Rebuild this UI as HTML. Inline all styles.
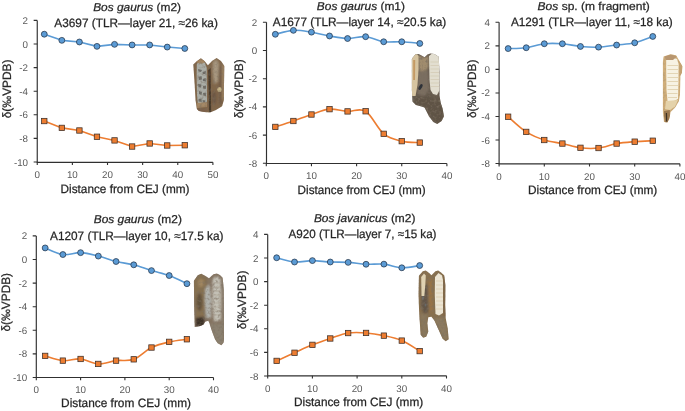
<!DOCTYPE html>
<html><head><meta charset="utf-8"><style>
html,body{margin:0;padding:0;background:#fff;}
svg{display:block;will-change:transform;}
text{font-family:"Liberation Sans", sans-serif;text-rendering:geometricPrecision;}
.t{fill:#262626;stroke:#262626;stroke-width:0.25px;}
</style></head><body>
<svg width="685" height="411" viewBox="0 0 685 411">
<rect width="685" height="411" fill="#fff"/>
<defs>
<filter id="b1" x="-20%" y="-20%" width="140%" height="140%"><feGaussianBlur stdDeviation="1.2"/></filter>
<filter id="b07" x="-20%" y="-20%" width="140%" height="140%"><feGaussianBlur stdDeviation="0.7"/></filter>
<filter id="b05" x="-10%" y="-10%" width="120%" height="120%"><feGaussianBlur stdDeviation="0.45"/></filter>
<filter id="nz" x="0" y="0" width="100%" height="100%" filterUnits="userSpaceOnUse"><feTurbulence type="fractalNoise" baseFrequency="0.38" numOctaves="2" seed="4"/><feColorMatrix type="matrix" values="0 0 0 0 0.2  0 0 0 0 0.16  0 0 0 0 0.12  0 0 0 -3 1.62"/></filter>
<filter id="nzl" x="0" y="0" width="100%" height="100%" filterUnits="userSpaceOnUse"><feTurbulence type="fractalNoise" baseFrequency="0.3" numOctaves="2" seed="11"/><feColorMatrix type="matrix" values="0 0 0 0 0.95  0 0 0 0 0.9  0 0 0 0 0.8  0 0 0 -3 1.6"/></filter>
<clipPath id="c1"><path d="M193.3 64.5 L197 61 L200.9 58.3 L204.5 61 L207.9 65.2 L212 61 L216.6 57.9 L221 61 L224.3 66 L224 85 L223.9 100 L222.1 106.2 L216 110 L210 112.4 L204 112 L199 111 L196.9 109 L195.5 100 L194.7 85 Z"/></clipPath>
<clipPath id="c2"><path d="M411.9 58.8 L415.3 54.4 L418.7 53.9 L421.5 55.5 L424.6 57.3 L427.5 54.5 L430.4 53.4 L434.3 53.9 L438.7 56.8 L439.4 70 L439.6 95.8 L440.6 102.6 L442.6 108.4 L444 116.2 L441.6 121.1 L437.2 124 L433.3 122.1 L428.9 116.2 L424.5 107.5 L421.6 106.5 L415.8 105 L412.4 101.6 L411.9 90 Z"/></clipPath>
<clipPath id="c3"><path d="M663.6 56.4 L670.6 54.2 L676 55.3 L679.3 60.8 L682.4 66.2 L681.9 72.8 L680.4 76 L680 94.6 L678.9 101.2 L675 107.7 L670.6 112.1 L669.5 118.6 L667.3 122.6 L664 121.9 L662.9 112.1 L662.9 61.8 Z"/></clipPath>
<clipPath id="c4"><path d="M193.9 280.7 L197.8 275.3 L201.2 273.8 L205 275.8 L209 278.2 L213.4 274.3 L216.8 273.4 L220 275 L222.7 277.7 L223.8 290 L224 320 L224 340 L223.5 342.7 L221.4 345.3 L217.7 343.2 L215.1 339.6 L212 331.2 L209.4 323.3 L208.3 320.7 L205.2 321.8 L203.6 324.4 L200.5 325.9 L194.7 327 L194.2 310 L194 290 Z"/></clipPath>
<clipPath id="c5"><path d="M418.9 275.7 L422.8 271.3 L425.7 270.4 L428.5 272.5 L431.5 275.2 L435.4 271.3 L438.3 270.4 L441 272.5 L444.2 275.2 L445.4 285 L445.2 305 L445.7 318.3 L447.7 328.6 L448.7 339.3 L445.7 341.3 L442.6 338.8 L438.5 329.6 L434.4 320.4 L431.4 316.8 L428.3 317.3 L427.3 323.4 L428.3 331.6 L426.2 336.7 L423.2 337.8 L420.6 334.7 L419.1 311.2 L418.5 295 Z"/></clipPath>
</defs>
<!-- tooth 1 -->
<g filter="url(#b05)"><g clip-path="url(#c1)">
<rect x="190" y="55" width="38" height="60" fill="#80664a"/>
<g filter="url(#b1)">
<path d="M213 61 L217 59.5 L219 64 L218 82 L214 84 L212.5 70 Z" fill="#a89880"/>
<path d="M219.5 66 L221.5 66 L221.5 104 L219.5 104 Z" fill="#6a5440"/>
<ellipse cx="214" cy="98" rx="2.2" ry="7" fill="#6c5642"/>
<path d="M222 64 L224.5 66 L224.5 100 L222.5 100 Z" fill="#a48a68"/>
<ellipse cx="201" cy="110" rx="5" ry="2.5" fill="#7a6048"/>
</g>
<g filter="url(#b07)">
<path d="M196.8 64 L200.9 60 L205 63 L206.8 68 L207 104 L204.5 107 L198 106 L197 95 L196.6 75 Z" fill="#aaada6"/>
<ellipse cx="219.5" cy="89.5" rx="2.2" ry="2.6" fill="#cbb98a"/>
<path d="M208.2 70 L210.6 68 L211.2 112 L209 112 Z" fill="#4a3a2c"/>
</g>
<g fill="#4f4c45" opacity="0.65" filter="url(#b05)">
<path d="M198 69 L202 70 L201 72 L198.5 71.5 Z"/><path d="M202.5 72 L206 71 L205.5 74 L203 74 Z"/>
<path d="M198.5 77 L201.5 76 L202 79.5 L199 80 Z"/><path d="M202.8 79 L205.5 78 L206 81.5 L203 81 Z"/>
<path d="M198 84 L201.5 84.5 L201 87.5 L198.5 87 Z"/><path d="M203 86 L206 85.5 L205.8 89 L203.2 88.5 Z"/>
<path d="M199 91 L202 92 L201.5 95 L199 94 Z"/><path d="M203 93 L205.8 92.5 L206 96 L203.5 95.5 Z"/>
<path d="M198.5 99 L201.5 98.5 L201.8 102 L199 101.5 Z"/><path d="M202.5 100 L205.5 100.5 L205 103 L202.8 102.5 Z"/>
</g>
<g fill="#a48460" opacity="0.9" filter="url(#b05)">
<path d="M196 62 L201 58.5 L205 61.5 L203 63.5 L199 63.5 Z"/>
<path d="M196.5 103 L207 102 L207 107 L197 108 Z"/>
</g>
<rect x="190" y="55" width="38" height="60" filter="url(#nz)" opacity="0.45"/>
</g></g>
<!-- tooth 2 -->
<g filter="url(#b05)"><g clip-path="url(#c2)">
<rect x="408" y="50" width="40" height="78" fill="#655a4d"/>
<g filter="url(#b1)">
<path d="M417 55 L424.6 57.5 L429 56 L428.5 68 L423 72 L418 70 Z" fill="#a08c6e"/>
<path d="M418 72 L428 70 L429 90 L424 96 L418 94 Z" fill="#7a6e60"/>
<path d="M415 97 L428 97 L440 100 L443 112 L441 122 L436 123 L430 114 L425 107 L416 104 Z" fill="#5e5244"/>
</g>
<rect x="408" y="50" width="40" height="78" filter="url(#nz)" opacity="0.7"/>
<g filter="url(#b07)">
<path d="M411 56 L416 53 L418.5 56 L418.5 70 L417.5 85 L415.5 96 L411 96 Z" fill="#d6c4a0"/>
<path d="M413.2 60 L415.2 60 L415 80 L413.2 80 Z" fill="#c49a64"/>
<path d="M429 56 L432 53.5 L437.5 54.5 L439.6 58 L439.6 90 L437 95 L433 94 L430.5 90 L429.5 80 Z" fill="#e2ded0"/>
<ellipse cx="420.5" cy="87" rx="1.5" ry="3.2" transform="rotate(30 420.5 87)" fill="#2e3038"/>
</g>
<g stroke="#cdc3aa" stroke-width="0.6" opacity="0.9">
<path d="M430.5 62 H439 M430.5 65.5 H439 M430.5 69 H439 M430.5 72.5 H439 M430.5 76 H439 M430.5 79.5 H439 M430.5 83 H439 M431 86.5 H439"/>
</g>
</g></g>
<!-- tooth 3 -->
<g filter="url(#b05)"><g clip-path="url(#c3)">
<rect x="658" y="50" width="27" height="78" fill="#d0ae7a"/>
<rect x="658" y="50" width="27" height="78" filter="url(#nz)" opacity="0.2"/>
<g filter="url(#b07)">
<path d="M666.2 59.5 L671 57 L677 59 L678.6 64 L678.4 85 L678 99 L673 101.5 L667.5 101 L666.5 90 L666.2 70 Z" fill="#f7f2e3"/>
<path d="M664.5 56.5 L671 54.5 L677 56.5 L673 60 L666 60 Z" fill="#b89670"/>
<path d="M666 101 L678 100 L675 106.5 L670 110 L665 109 Z" fill="#e4d2aa"/>
<path d="M664 111 L669.8 110 L670 116 L668 122.5 L665 122.5 L664 116 Z" fill="#9a7850"/>
<path d="M665.8 113 L667 113 L667.3 121.5 L666.1 121.5 Z" fill="#3e3024"/>
<path d="M679 61 L682.4 66 L682 73 L679.5 76 Z" fill="#c4a272"/>
</g>
<g stroke="#d9c59c" stroke-width="0.7" opacity="0.95">
<path d="M667.5 65.5 H678 M667.5 69.5 H678 M667.5 73.5 H678 M667.5 77.5 H678 M667.5 81.5 H678 M667.5 85.5 H678 M667.5 89.5 H678 M667.5 93.5 H677.5 M668 97.5 H677"/>
</g>
</g></g>
<!-- tooth 4 -->
<g filter="url(#b05)"><g clip-path="url(#c4)">
<rect x="190" y="268" width="38" height="80" fill="#857462"/>
<g filter="url(#b1)">
<path d="M194 280 L198 275 L202 274 L207 278 L206 300 L204 318 L196 322 L194 300 Z" fill="#86704f"/>
<ellipse cx="199.5" cy="302" rx="3" ry="9" fill="#64523e"/>
<ellipse cx="201" cy="283" rx="3" ry="4" fill="#a08660"/>
<path d="M210 324 L223 324 L223.5 344 L218 344 L213 335 Z" fill="#8b8170"/>
<path d="M222 280 L224 280 L224 330 L222 330 Z" fill="#8a8070"/>
</g>
<g filter="url(#b1)">
<path d="M205 288 L209.5 284 L211.5 300 L211 318 L206 318 L204.5 300 Z" fill="#b2b3ad"/>
<path d="M212.5 279 L216.5 276 L220.5 278.5 L221.2 295 L221 320 L214 322 L212.5 305 Z" fill="#c3c0b5"/>
<path d="M196 318 L204.5 317 L204 326 L196 327 Z" fill="#3e3228"/>
</g>
<g stroke="#a49c8a" stroke-width="0.6" opacity="0.8">
<path d="M213.5 283 H220.5 M213.5 287 H220.5 M213.5 291 H220.5 M213.5 295 H220.5 M213.5 299 H220.5 M213.5 303 H220.5 M213.5 307 H220.5 M213.5 311 H220.5 M213.5 315 H220.5"/>
</g>
<rect x="190" y="268" width="38" height="80" filter="url(#nz)" opacity="0.5"/>
</g></g>
<!-- tooth 5 -->
<g filter="url(#b05)"><g clip-path="url(#c5)">
<rect x="415" y="266" width="37" height="80" fill="#88704f"/>
<g filter="url(#b1)">
<path d="M422 286 L427.5 284 L428.5 312 L424 314 L421 306 Z" fill="#63574a"/>
<path d="M428.5 280 L431.5 278 L432.5 312 L429.5 312 Z" fill="#9c7444"/>
<path d="M420 314 L427 314 L427.5 336 L422 337 Z" fill="#8a785c"/>
<path d="M433 318 L444 318 L447 330 L447.5 340 L443 339 L438 328 Z" fill="#8c7a5e"/>
<path d="M443.5 276 L445.5 278 L445.5 316 L443.5 316 Z" fill="#7a6040"/>
</g>
<rect x="415" y="266" width="37" height="80" filter="url(#nz)" opacity="0.55"/>
<g filter="url(#b07)">
<path d="M421.2 277 L424 273.5 L425.8 275.5 L425.3 285 L424.3 296 L421.5 296 Z" fill="#e0d2b2"/>
<path d="M435 277 L438.5 273 L442 275.5 L443 280 L443 313 L439 315.5 L435.5 314 L434.8 295 Z" fill="#ece5d4"/>
</g>
<g stroke="#d4c29c" stroke-width="0.6" opacity="0.85">
<path d="M436 281 H443 M436 285 H443 M436 289 H443 M436 293 H443 M436 297 H443 M436 301 H443 M436 305 H443 M436 309 H443"/>
</g>
<g fill="#6e7a84" opacity="0.5" filter="url(#b05)"><ellipse cx="423" cy="298" rx="1" ry="2"/><ellipse cx="425.5" cy="305" rx="0.9" ry="1.6"/></g>
</g></g>

<path d="M37.25 20.4 V162.3 M36.7 162.3 H212.9" stroke="#303030" stroke-width="1.15" fill="none"/>
<text x="28.05" y="165.55" text-anchor="end" font-size="9.8" fill="#595959">-10</text>
<text x="28.05" y="141.95" text-anchor="end" font-size="9.8" fill="#595959">-8</text>
<text x="28.05" y="118.35" text-anchor="end" font-size="9.8" fill="#595959">-6</text>
<text x="28.05" y="94.75" text-anchor="end" font-size="9.8" fill="#595959">-4</text>
<text x="28.05" y="71.15" text-anchor="end" font-size="9.8" fill="#595959">-2</text>
<text x="28.05" y="47.55" text-anchor="end" font-size="9.8" fill="#595959">0</text>
<text x="28.05" y="23.95" text-anchor="end" font-size="9.8" fill="#595959">2</text>
<text x="37.25" y="178" text-anchor="middle" font-size="9.8" fill="#595959">0</text>
<text x="72.38" y="178" text-anchor="middle" font-size="9.8" fill="#595959">10</text>
<text x="107.51" y="178" text-anchor="middle" font-size="9.8" fill="#595959">20</text>
<text x="142.64" y="178" text-anchor="middle" font-size="9.8" fill="#595959">30</text>
<text x="177.77" y="178" text-anchor="middle" font-size="9.8" fill="#595959">40</text>
<text x="212.9" y="178" text-anchor="middle" font-size="9.8" fill="#595959">50</text>
<path d="M33.65 162 H37.25 M33.65 138.4 H37.25 M33.65 114.8 H37.25 M33.65 91.2 H37.25 M33.65 67.6 H37.25 M33.65 44 H37.25 M33.65 20.4 H37.25 M37.25 162.3 V165.1 M72.38 162.3 V165.1 M107.51 162.3 V165.1 M142.64 162.3 V165.1 M177.77 162.3 V165.1 M212.9 162.3 V165.1" stroke="#303030" stroke-width="1.1" fill="none"/>
<path d="M44.28 34.21 L61.84 40.34 L79.41 41.99 L96.97 46.36 L114.54 44.35 L132.1 44.94 L149.67 44.94 L167.23 47.07 L184.8 48.48" stroke="#5b9bd5" stroke-width="1.6" fill="none" stroke-linejoin="round"/>
<circle cx="44.28" cy="34.21" r="2.95" fill="#5b9bd5" stroke="#25364a" stroke-width="0.75"/>
<circle cx="61.84" cy="40.34" r="2.95" fill="#5b9bd5" stroke="#25364a" stroke-width="0.75"/>
<circle cx="79.41" cy="41.99" r="2.95" fill="#5b9bd5" stroke="#25364a" stroke-width="0.75"/>
<circle cx="96.97" cy="46.36" r="2.95" fill="#5b9bd5" stroke="#25364a" stroke-width="0.75"/>
<circle cx="114.54" cy="44.35" r="2.95" fill="#5b9bd5" stroke="#25364a" stroke-width="0.75"/>
<circle cx="132.1" cy="44.94" r="2.95" fill="#5b9bd5" stroke="#25364a" stroke-width="0.75"/>
<circle cx="149.67" cy="44.94" r="2.95" fill="#5b9bd5" stroke="#25364a" stroke-width="0.75"/>
<circle cx="167.23" cy="47.07" r="2.95" fill="#5b9bd5" stroke="#25364a" stroke-width="0.75"/>
<circle cx="184.8" cy="48.48" r="2.95" fill="#5b9bd5" stroke="#25364a" stroke-width="0.75"/>
<path d="M44.28 121.05 L61.84 127.9 L79.41 130.49 L96.97 136.75 L114.54 140.41 L132.1 146.54 L149.67 143.47 L167.23 145.48 L184.8 145.24" stroke="#ed7d31" stroke-width="1.6" fill="none" stroke-linejoin="round"/>
<rect x="41.58" y="118.35" width="5.4" height="5.4" fill="#ed7d31" stroke="#3a2e28" stroke-width="0.75"/>
<rect x="59.14" y="125.2" width="5.4" height="5.4" fill="#ed7d31" stroke="#3a2e28" stroke-width="0.75"/>
<rect x="76.71" y="127.79" width="5.4" height="5.4" fill="#ed7d31" stroke="#3a2e28" stroke-width="0.75"/>
<rect x="94.27" y="134.05" width="5.4" height="5.4" fill="#ed7d31" stroke="#3a2e28" stroke-width="0.75"/>
<rect x="111.84" y="137.71" width="5.4" height="5.4" fill="#ed7d31" stroke="#3a2e28" stroke-width="0.75"/>
<rect x="129.4" y="143.84" width="5.4" height="5.4" fill="#ed7d31" stroke="#3a2e28" stroke-width="0.75"/>
<rect x="146.97" y="140.77" width="5.4" height="5.4" fill="#ed7d31" stroke="#3a2e28" stroke-width="0.75"/>
<rect x="164.53" y="142.78" width="5.4" height="5.4" fill="#ed7d31" stroke="#3a2e28" stroke-width="0.75"/>
<rect x="182.1" y="142.54" width="5.4" height="5.4" fill="#ed7d31" stroke="#3a2e28" stroke-width="0.75"/>
<text x="93.2" y="10.6" font-size="11.4" font-style="italic" class="t" textLength="60.11" lengthAdjust="spacingAndGlyphs">Bos gaurus</text>
<text x="153.31" y="10.6" font-size="11.4" class="t" textLength="27.72" lengthAdjust="spacingAndGlyphs" xml:space="preserve"> (m2)</text>
<text x="54.3" y="26.7" font-size="12.1" class="t" textLength="163.53" lengthAdjust="spacingAndGlyphs">A3697 (TLR—layer 21, ≈26 ka)</text>
<text x="60.6" y="192.8" font-size="12.1" class="t" textLength="128.86" lengthAdjust="spacingAndGlyphs">Distance from CEJ (mm)</text>
<g transform="translate(10.8 117.9) rotate(-90)"><text x="-0.4" y="0" font-size="12.1" class="t" textLength="58.75" lengthAdjust="spacingAndGlyphs">δ(‰VPDB)</text></g>
<path d="M266.5 22.3 V163.5 M265.95 163.5 H446.9" stroke="#303030" stroke-width="1.15" fill="none"/>
<text x="257.3" y="166.85" text-anchor="end" font-size="9.8" fill="#595959">-8</text>
<text x="257.3" y="138.65" text-anchor="end" font-size="9.8" fill="#595959">-6</text>
<text x="257.3" y="110.45" text-anchor="end" font-size="9.8" fill="#595959">-4</text>
<text x="257.3" y="82.25" text-anchor="end" font-size="9.8" fill="#595959">-2</text>
<text x="257.3" y="54.05" text-anchor="end" font-size="9.8" fill="#595959">0</text>
<text x="257.3" y="25.85" text-anchor="end" font-size="9.8" fill="#595959">2</text>
<text x="266.3" y="179.2" text-anchor="middle" font-size="9.8" fill="#595959">0</text>
<text x="311.45" y="179.2" text-anchor="middle" font-size="9.8" fill="#595959">10</text>
<text x="356.6" y="179.2" text-anchor="middle" font-size="9.8" fill="#595959">20</text>
<text x="401.75" y="179.2" text-anchor="middle" font-size="9.8" fill="#595959">30</text>
<text x="446.9" y="179.2" text-anchor="middle" font-size="9.8" fill="#595959">40</text>
<path d="M262.9 163.3 H266.5 M262.9 135.1 H266.5 M262.9 106.9 H266.5 M262.9 78.7 H266.5 M262.9 50.5 H266.5 M262.9 22.3 H266.5 M266.3 163.5 V166.3 M311.45 163.5 V166.3 M356.6 163.5 V166.3 M401.75 163.5 V166.3 M446.9 163.5 V166.3" stroke="#303030" stroke-width="1.1" fill="none"/>
<path d="M275.33 34.28 C278.34 33.63 287.37 30.69 293.39 30.34 C299.41 29.98 305.43 31.23 311.45 32.17 C317.47 33.11 323.49 34.92 329.51 35.98 C335.53 37.03 341.55 38.4 347.57 38.52 C353.59 38.63 359.61 36.14 365.63 36.68 C371.65 37.22 377.67 40.91 383.69 41.76 C389.71 42.6 395.73 41.48 401.75 41.76 C407.77 42.04 416.8 43.17 419.81 43.45" stroke="#5b9bd5" stroke-width="1.6" fill="none" stroke-linejoin="round"/>
<circle cx="275.33" cy="34.28" r="2.95" fill="#5b9bd5" stroke="#25364a" stroke-width="0.75"/>
<circle cx="293.39" cy="30.34" r="2.95" fill="#5b9bd5" stroke="#25364a" stroke-width="0.75"/>
<circle cx="311.45" cy="32.17" r="2.95" fill="#5b9bd5" stroke="#25364a" stroke-width="0.75"/>
<circle cx="329.51" cy="35.98" r="2.95" fill="#5b9bd5" stroke="#25364a" stroke-width="0.75"/>
<circle cx="347.57" cy="38.52" r="2.95" fill="#5b9bd5" stroke="#25364a" stroke-width="0.75"/>
<circle cx="365.63" cy="36.68" r="2.95" fill="#5b9bd5" stroke="#25364a" stroke-width="0.75"/>
<circle cx="383.69" cy="41.76" r="2.95" fill="#5b9bd5" stroke="#25364a" stroke-width="0.75"/>
<circle cx="401.75" cy="41.76" r="2.95" fill="#5b9bd5" stroke="#25364a" stroke-width="0.75"/>
<circle cx="419.81" cy="43.45" r="2.95" fill="#5b9bd5" stroke="#25364a" stroke-width="0.75"/>
<path d="M275.33 126.92 C278.34 125.94 287.37 123.07 293.39 121 C299.41 118.93 305.43 116.49 311.45 114.51 C317.47 112.54 323.49 109.67 329.51 109.16 C335.53 108.64 341.55 111.06 347.57 111.41 C353.59 111.76 359.61 107.53 365.63 111.27 C371.65 115.01 377.67 128.85 383.69 133.83 C389.71 138.81 395.73 139.71 401.75 141.16 C407.77 142.62 416.8 142.34 419.81 142.57" stroke="#ed7d31" stroke-width="1.6" fill="none" stroke-linejoin="round"/>
<rect x="272.63" y="124.22" width="5.4" height="5.4" fill="#ed7d31" stroke="#3a2e28" stroke-width="0.75"/>
<rect x="290.69" y="118.3" width="5.4" height="5.4" fill="#ed7d31" stroke="#3a2e28" stroke-width="0.75"/>
<rect x="308.75" y="111.81" width="5.4" height="5.4" fill="#ed7d31" stroke="#3a2e28" stroke-width="0.75"/>
<rect x="326.81" y="106.46" width="5.4" height="5.4" fill="#ed7d31" stroke="#3a2e28" stroke-width="0.75"/>
<rect x="344.87" y="108.71" width="5.4" height="5.4" fill="#ed7d31" stroke="#3a2e28" stroke-width="0.75"/>
<rect x="362.93" y="108.57" width="5.4" height="5.4" fill="#ed7d31" stroke="#3a2e28" stroke-width="0.75"/>
<rect x="380.99" y="131.13" width="5.4" height="5.4" fill="#ed7d31" stroke="#3a2e28" stroke-width="0.75"/>
<rect x="399.05" y="138.46" width="5.4" height="5.4" fill="#ed7d31" stroke="#3a2e28" stroke-width="0.75"/>
<rect x="417.11" y="139.87" width="5.4" height="5.4" fill="#ed7d31" stroke="#3a2e28" stroke-width="0.75"/>
<text x="316.8" y="9.7" font-size="11.4" font-style="italic" class="t" textLength="60.32" lengthAdjust="spacingAndGlyphs">Bos gaurus</text>
<text x="377.12" y="9.7" font-size="11.4" class="t" textLength="27.82" lengthAdjust="spacingAndGlyphs" xml:space="preserve"> (m1)</text>
<text x="272.8" y="25.5" font-size="12.1" class="t" textLength="173.45" lengthAdjust="spacingAndGlyphs">A1677 (TLR—layer 14, ≈20.5 ka)</text>
<text x="297.6" y="194.3" font-size="12.1" class="t" textLength="128.16" lengthAdjust="spacingAndGlyphs">Distance from CEJ (mm)</text>
<g transform="translate(243.2 117.9) rotate(-90)"><text x="-0.4" y="0" font-size="12.1" class="t" textLength="59.05" lengthAdjust="spacingAndGlyphs">δ(‰VPDB)</text></g>
<path d="M499.1 22.32 V163.8 M498.55 163.8 H679.9" stroke="#303030" stroke-width="1.15" fill="none"/>
<text x="489.9" y="167.11" text-anchor="end" font-size="9.8" fill="#595959">-8</text>
<text x="489.9" y="143.57" text-anchor="end" font-size="9.8" fill="#595959">-6</text>
<text x="489.9" y="120.03" text-anchor="end" font-size="9.8" fill="#595959">-4</text>
<text x="489.9" y="96.49" text-anchor="end" font-size="9.8" fill="#595959">-2</text>
<text x="489.9" y="72.95" text-anchor="end" font-size="9.8" fill="#595959">0</text>
<text x="489.9" y="49.41" text-anchor="end" font-size="9.8" fill="#595959">2</text>
<text x="489.9" y="25.87" text-anchor="end" font-size="9.8" fill="#595959">4</text>
<text x="499.1" y="179.5" text-anchor="middle" font-size="9.8" fill="#595959">0</text>
<text x="544.3" y="179.5" text-anchor="middle" font-size="9.8" fill="#595959">10</text>
<text x="589.5" y="179.5" text-anchor="middle" font-size="9.8" fill="#595959">20</text>
<text x="634.7" y="179.5" text-anchor="middle" font-size="9.8" fill="#595959">30</text>
<text x="679.9" y="179.5" text-anchor="middle" font-size="9.8" fill="#595959">40</text>
<path d="M495.5 163.56 H499.1 M495.5 140.02 H499.1 M495.5 116.48 H499.1 M495.5 92.94 H499.1 M495.5 69.4 H499.1 M495.5 45.86 H499.1 M495.5 22.32 H499.1 M499.1 163.8 V166.6 M544.3 163.8 V166.6 M589.5 163.8 V166.6 M634.7 163.8 V166.6 M679.9 163.8 V166.6" stroke="#303030" stroke-width="1.1" fill="none"/>
<path d="M508.14 48.57 C511.15 48.43 520.19 48.55 526.22 47.74 C532.25 46.94 538.27 44.41 544.3 43.74 C550.33 43.07 556.35 43.29 562.38 43.74 C568.41 44.19 574.43 45.88 580.46 46.45 C586.49 47.02 592.51 47.39 598.54 47.15 C604.57 46.92 610.59 45.76 616.62 45.04 C622.65 44.31 628.67 44.23 634.7 42.8 C640.73 41.37 649.77 37.5 652.78 36.44" stroke="#5b9bd5" stroke-width="1.6" fill="none" stroke-linejoin="round"/>
<circle cx="508.14" cy="48.57" r="2.95" fill="#5b9bd5" stroke="#25364a" stroke-width="0.75"/>
<circle cx="526.22" cy="47.74" r="2.95" fill="#5b9bd5" stroke="#25364a" stroke-width="0.75"/>
<circle cx="544.3" cy="43.74" r="2.95" fill="#5b9bd5" stroke="#25364a" stroke-width="0.75"/>
<circle cx="562.38" cy="43.74" r="2.95" fill="#5b9bd5" stroke="#25364a" stroke-width="0.75"/>
<circle cx="580.46" cy="46.45" r="2.95" fill="#5b9bd5" stroke="#25364a" stroke-width="0.75"/>
<circle cx="598.54" cy="47.15" r="2.95" fill="#5b9bd5" stroke="#25364a" stroke-width="0.75"/>
<circle cx="616.62" cy="45.04" r="2.95" fill="#5b9bd5" stroke="#25364a" stroke-width="0.75"/>
<circle cx="634.7" cy="42.8" r="2.95" fill="#5b9bd5" stroke="#25364a" stroke-width="0.75"/>
<circle cx="652.78" cy="36.44" r="2.95" fill="#5b9bd5" stroke="#25364a" stroke-width="0.75"/>
<path d="M508.14 116.72 C511.15 119.25 520.19 128.01 526.22 131.9 C532.25 135.78 538.27 138.08 544.3 140.02 C550.33 141.96 556.35 142.26 562.38 143.55 C568.41 144.85 574.43 147.04 580.46 147.79 C586.49 148.53 592.51 148.73 598.54 148.02 C604.57 147.32 610.59 144.61 616.62 143.55 C622.65 142.49 628.67 142.14 634.7 141.67 C640.73 141.2 649.77 140.88 652.78 140.73" stroke="#ed7d31" stroke-width="1.6" fill="none" stroke-linejoin="round"/>
<rect x="505.44" y="114.02" width="5.4" height="5.4" fill="#ed7d31" stroke="#3a2e28" stroke-width="0.75"/>
<rect x="523.52" y="129.2" width="5.4" height="5.4" fill="#ed7d31" stroke="#3a2e28" stroke-width="0.75"/>
<rect x="541.6" y="137.32" width="5.4" height="5.4" fill="#ed7d31" stroke="#3a2e28" stroke-width="0.75"/>
<rect x="559.68" y="140.85" width="5.4" height="5.4" fill="#ed7d31" stroke="#3a2e28" stroke-width="0.75"/>
<rect x="577.76" y="145.09" width="5.4" height="5.4" fill="#ed7d31" stroke="#3a2e28" stroke-width="0.75"/>
<rect x="595.84" y="145.32" width="5.4" height="5.4" fill="#ed7d31" stroke="#3a2e28" stroke-width="0.75"/>
<rect x="613.92" y="140.85" width="5.4" height="5.4" fill="#ed7d31" stroke="#3a2e28" stroke-width="0.75"/>
<rect x="632" y="138.97" width="5.4" height="5.4" fill="#ed7d31" stroke="#3a2e28" stroke-width="0.75"/>
<rect x="650.08" y="138.03" width="5.4" height="5.4" fill="#ed7d31" stroke="#3a2e28" stroke-width="0.75"/>
<text x="537.6" y="9.6" font-size="11.4" font-style="italic" class="t" textLength="20.7" lengthAdjust="spacingAndGlyphs">Bos</text>
<text x="558.3" y="9.6" font-size="11.4" class="t" textLength="91.43" lengthAdjust="spacingAndGlyphs" xml:space="preserve"> sp. (m fragment)</text>
<text x="510.9" y="25.8" font-size="12.1" class="t" textLength="161.78" lengthAdjust="spacingAndGlyphs">A1291 (TLR—layer 11, ≈18 ka)</text>
<text x="528" y="194.4" font-size="12.1" class="t" textLength="129.26" lengthAdjust="spacingAndGlyphs">Distance from CEJ (mm)</text>
<g transform="translate(475.8 117.7) rotate(-90)"><text x="-0.4" y="0" font-size="12.1" class="t" textLength="58.55" lengthAdjust="spacingAndGlyphs">δ(‰VPDB)</text></g>
<path d="M36.3 235.9 V377.5 M35.75 377.5 H213.5" stroke="#303030" stroke-width="1.15" fill="none"/>
<text x="27.1" y="381.05" text-anchor="end" font-size="9.8" fill="#595959">-10</text>
<text x="27.1" y="357.45" text-anchor="end" font-size="9.8" fill="#595959">-8</text>
<text x="27.1" y="333.85" text-anchor="end" font-size="9.8" fill="#595959">-6</text>
<text x="27.1" y="310.25" text-anchor="end" font-size="9.8" fill="#595959">-4</text>
<text x="27.1" y="286.65" text-anchor="end" font-size="9.8" fill="#595959">-2</text>
<text x="27.1" y="263.05" text-anchor="end" font-size="9.8" fill="#595959">0</text>
<text x="27.1" y="239.45" text-anchor="end" font-size="9.8" fill="#595959">2</text>
<text x="36.3" y="393.2" text-anchor="middle" font-size="9.8" fill="#595959">0</text>
<text x="80.6" y="393.2" text-anchor="middle" font-size="9.8" fill="#595959">10</text>
<text x="124.9" y="393.2" text-anchor="middle" font-size="9.8" fill="#595959">20</text>
<text x="169.2" y="393.2" text-anchor="middle" font-size="9.8" fill="#595959">30</text>
<text x="213.5" y="393.2" text-anchor="middle" font-size="9.8" fill="#595959">40</text>
<path d="M32.7 377.5 H36.3 M32.7 353.9 H36.3 M32.7 330.3 H36.3 M32.7 306.7 H36.3 M32.7 283.1 H36.3 M32.7 259.5 H36.3 M32.7 235.9 H36.3 M36.3 377.5 V380.3 M80.6 377.5 V380.3 M124.9 377.5 V380.3 M169.2 377.5 V380.3 M213.5 377.5 V380.3" stroke="#303030" stroke-width="1.1" fill="none"/>
<path d="M45.16 247.94 C48.11 249.04 56.97 253.76 62.88 254.54 C68.79 255.33 74.69 252.4 80.6 252.66 C86.51 252.91 92.41 254.6 98.32 256.08 C104.23 257.55 110.13 260.05 116.04 261.51 C121.95 262.96 127.85 263.3 133.76 264.81 C139.67 266.32 145.57 268.8 151.48 270.59 C157.39 272.38 163.29 273.37 169.2 275.55 C175.11 277.73 183.97 282.33 186.92 283.69" stroke="#5b9bd5" stroke-width="1.6" fill="none" stroke-linejoin="round"/>
<circle cx="45.16" cy="247.94" r="2.95" fill="#5b9bd5" stroke="#25364a" stroke-width="0.75"/>
<circle cx="62.88" cy="254.54" r="2.95" fill="#5b9bd5" stroke="#25364a" stroke-width="0.75"/>
<circle cx="80.6" cy="252.66" r="2.95" fill="#5b9bd5" stroke="#25364a" stroke-width="0.75"/>
<circle cx="98.32" cy="256.08" r="2.95" fill="#5b9bd5" stroke="#25364a" stroke-width="0.75"/>
<circle cx="116.04" cy="261.51" r="2.95" fill="#5b9bd5" stroke="#25364a" stroke-width="0.75"/>
<circle cx="133.76" cy="264.81" r="2.95" fill="#5b9bd5" stroke="#25364a" stroke-width="0.75"/>
<circle cx="151.48" cy="270.59" r="2.95" fill="#5b9bd5" stroke="#25364a" stroke-width="0.75"/>
<circle cx="169.2" cy="275.55" r="2.95" fill="#5b9bd5" stroke="#25364a" stroke-width="0.75"/>
<circle cx="186.92" cy="283.69" r="2.95" fill="#5b9bd5" stroke="#25364a" stroke-width="0.75"/>
<path d="M45.16 355.91 C48.11 356.69 56.97 360.11 62.88 360.63 C68.79 361.14 74.69 358.42 80.6 358.97 C86.51 359.52 92.41 363.65 98.32 363.93 C104.23 364.21 110.13 361.39 116.04 360.63 C121.95 359.86 127.85 361.51 133.76 359.33 C139.67 357.15 145.57 350.44 151.48 347.53 C157.39 344.62 163.29 343.24 169.2 341.86 C175.11 340.49 183.97 339.7 186.92 339.27" stroke="#ed7d31" stroke-width="1.6" fill="none" stroke-linejoin="round"/>
<rect x="42.46" y="353.21" width="5.4" height="5.4" fill="#ed7d31" stroke="#3a2e28" stroke-width="0.75"/>
<rect x="60.18" y="357.93" width="5.4" height="5.4" fill="#ed7d31" stroke="#3a2e28" stroke-width="0.75"/>
<rect x="77.9" y="356.27" width="5.4" height="5.4" fill="#ed7d31" stroke="#3a2e28" stroke-width="0.75"/>
<rect x="95.62" y="361.23" width="5.4" height="5.4" fill="#ed7d31" stroke="#3a2e28" stroke-width="0.75"/>
<rect x="113.34" y="357.93" width="5.4" height="5.4" fill="#ed7d31" stroke="#3a2e28" stroke-width="0.75"/>
<rect x="131.06" y="356.63" width="5.4" height="5.4" fill="#ed7d31" stroke="#3a2e28" stroke-width="0.75"/>
<rect x="148.78" y="344.83" width="5.4" height="5.4" fill="#ed7d31" stroke="#3a2e28" stroke-width="0.75"/>
<rect x="166.5" y="339.16" width="5.4" height="5.4" fill="#ed7d31" stroke="#3a2e28" stroke-width="0.75"/>
<rect x="184.22" y="336.57" width="5.4" height="5.4" fill="#ed7d31" stroke="#3a2e28" stroke-width="0.75"/>
<text x="93.7" y="223.3" font-size="11.4" font-style="italic" class="t" textLength="60.38" lengthAdjust="spacingAndGlyphs">Bos gaurus</text>
<text x="154.08" y="223.3" font-size="11.4" class="t" textLength="27.85" lengthAdjust="spacingAndGlyphs" xml:space="preserve"> (m2)</text>
<text x="50" y="239.6" font-size="12.1" class="t" textLength="173.45" lengthAdjust="spacingAndGlyphs">A1207 (TLR—layer 10, ≈17.5 ka)</text>
<text x="61.1" y="407.3" font-size="12.1" class="t" textLength="129.96" lengthAdjust="spacingAndGlyphs">Distance from CEJ (mm)</text>
<g transform="translate(10.4 331.1) rotate(-90)"><text x="-0.4" y="0" font-size="12.1" class="t" textLength="58.55" lengthAdjust="spacingAndGlyphs">δ(‰VPDB)</text></g>
<path d="M267.7 234.4 V375.8 M267.15 375.8 H446.5" stroke="#303030" stroke-width="1.15" fill="none"/>
<text x="258.5" y="379.55" text-anchor="end" font-size="9.8" fill="#595959">-8</text>
<text x="258.5" y="355.95" text-anchor="end" font-size="9.8" fill="#595959">-6</text>
<text x="258.5" y="332.35" text-anchor="end" font-size="9.8" fill="#595959">-4</text>
<text x="258.5" y="308.75" text-anchor="end" font-size="9.8" fill="#595959">-2</text>
<text x="258.5" y="285.15" text-anchor="end" font-size="9.8" fill="#595959">0</text>
<text x="258.5" y="261.55" text-anchor="end" font-size="9.8" fill="#595959">2</text>
<text x="258.5" y="237.95" text-anchor="end" font-size="9.8" fill="#595959">4</text>
<text x="267.7" y="391.5" text-anchor="middle" font-size="9.8" fill="#595959">0</text>
<text x="312.4" y="391.5" text-anchor="middle" font-size="9.8" fill="#595959">10</text>
<text x="357.1" y="391.5" text-anchor="middle" font-size="9.8" fill="#595959">20</text>
<text x="401.8" y="391.5" text-anchor="middle" font-size="9.8" fill="#595959">30</text>
<text x="446.5" y="391.5" text-anchor="middle" font-size="9.8" fill="#595959">40</text>
<path d="M264.1 376 H267.7 M264.1 352.4 H267.7 M264.1 328.8 H267.7 M264.1 305.2 H267.7 M264.1 281.6 H267.7 M264.1 258 H267.7 M264.1 234.4 H267.7 M267.7 375.8 V378.6 M312.4 375.8 V378.6 M357.1 375.8 V378.6 M401.8 375.8 V378.6 M446.5 375.8 V378.6" stroke="#303030" stroke-width="1.1" fill="none"/>
<path d="M276.64 257.76 C279.62 258.47 288.56 261.54 294.52 262.01 C300.48 262.48 306.44 260.6 312.4 260.6 C318.36 260.6 324.32 261.72 330.28 262.01 C336.24 262.31 342.2 261.99 348.16 262.37 C354.12 262.74 360.08 263.96 366.04 264.25 C372 264.55 377.96 263.55 383.92 264.14 C389.88 264.73 395.84 267.56 401.8 267.79 C407.76 268.03 416.7 265.93 419.68 265.55" stroke="#5b9bd5" stroke-width="1.6" fill="none" stroke-linejoin="round"/>
<circle cx="276.64" cy="257.76" r="2.95" fill="#5b9bd5" stroke="#25364a" stroke-width="0.75"/>
<circle cx="294.52" cy="262.01" r="2.95" fill="#5b9bd5" stroke="#25364a" stroke-width="0.75"/>
<circle cx="312.4" cy="260.6" r="2.95" fill="#5b9bd5" stroke="#25364a" stroke-width="0.75"/>
<circle cx="330.28" cy="262.01" r="2.95" fill="#5b9bd5" stroke="#25364a" stroke-width="0.75"/>
<circle cx="348.16" cy="262.37" r="2.95" fill="#5b9bd5" stroke="#25364a" stroke-width="0.75"/>
<circle cx="366.04" cy="264.25" r="2.95" fill="#5b9bd5" stroke="#25364a" stroke-width="0.75"/>
<circle cx="383.92" cy="264.14" r="2.95" fill="#5b9bd5" stroke="#25364a" stroke-width="0.75"/>
<circle cx="401.8" cy="267.79" r="2.95" fill="#5b9bd5" stroke="#25364a" stroke-width="0.75"/>
<circle cx="419.68" cy="265.55" r="2.95" fill="#5b9bd5" stroke="#25364a" stroke-width="0.75"/>
<path d="M276.64 360.9 C279.62 359.54 288.56 355.43 294.52 352.75 C300.48 350.08 306.44 347.23 312.4 344.85 C318.36 342.47 324.32 340.44 330.28 338.48 C336.24 336.51 342.2 333.97 348.16 333.05 C354.12 332.12 360.08 332.5 366.04 332.93 C372 333.36 377.96 334.37 383.92 335.64 C389.88 336.92 395.84 338.02 401.8 340.6 C407.76 343.18 416.7 349.35 419.68 351.1" stroke="#ed7d31" stroke-width="1.6" fill="none" stroke-linejoin="round"/>
<rect x="273.94" y="358.2" width="5.4" height="5.4" fill="#ed7d31" stroke="#3a2e28" stroke-width="0.75"/>
<rect x="291.82" y="350.05" width="5.4" height="5.4" fill="#ed7d31" stroke="#3a2e28" stroke-width="0.75"/>
<rect x="309.7" y="342.15" width="5.4" height="5.4" fill="#ed7d31" stroke="#3a2e28" stroke-width="0.75"/>
<rect x="327.58" y="335.78" width="5.4" height="5.4" fill="#ed7d31" stroke="#3a2e28" stroke-width="0.75"/>
<rect x="345.46" y="330.35" width="5.4" height="5.4" fill="#ed7d31" stroke="#3a2e28" stroke-width="0.75"/>
<rect x="363.34" y="330.23" width="5.4" height="5.4" fill="#ed7d31" stroke="#3a2e28" stroke-width="0.75"/>
<rect x="381.22" y="332.94" width="5.4" height="5.4" fill="#ed7d31" stroke="#3a2e28" stroke-width="0.75"/>
<rect x="399.1" y="337.9" width="5.4" height="5.4" fill="#ed7d31" stroke="#3a2e28" stroke-width="0.75"/>
<rect x="416.98" y="348.4" width="5.4" height="5.4" fill="#ed7d31" stroke="#3a2e28" stroke-width="0.75"/>
<text x="313.9" y="221.8" font-size="11.4" font-style="italic" class="t" textLength="73.68" lengthAdjust="spacingAndGlyphs">Bos javanicus</text>
<text x="387.58" y="221.8" font-size="11.4" class="t" textLength="27.86" lengthAdjust="spacingAndGlyphs" xml:space="preserve"> (m2)</text>
<text x="288.5" y="237.7" font-size="12.1" class="t" textLength="148" lengthAdjust="spacingAndGlyphs">A920 (TLR—layer 7, ≈15 ka)</text>
<text x="294" y="405.5" font-size="12.1" class="t" textLength="129.16" lengthAdjust="spacingAndGlyphs">Distance from CEJ (mm)</text>
<g transform="translate(245.6 328.9) rotate(-90)"><text x="-0.4" y="0" font-size="12.1" class="t" textLength="58.65" lengthAdjust="spacingAndGlyphs">δ(‰VPDB)</text></g>
</svg>
</body></html>
